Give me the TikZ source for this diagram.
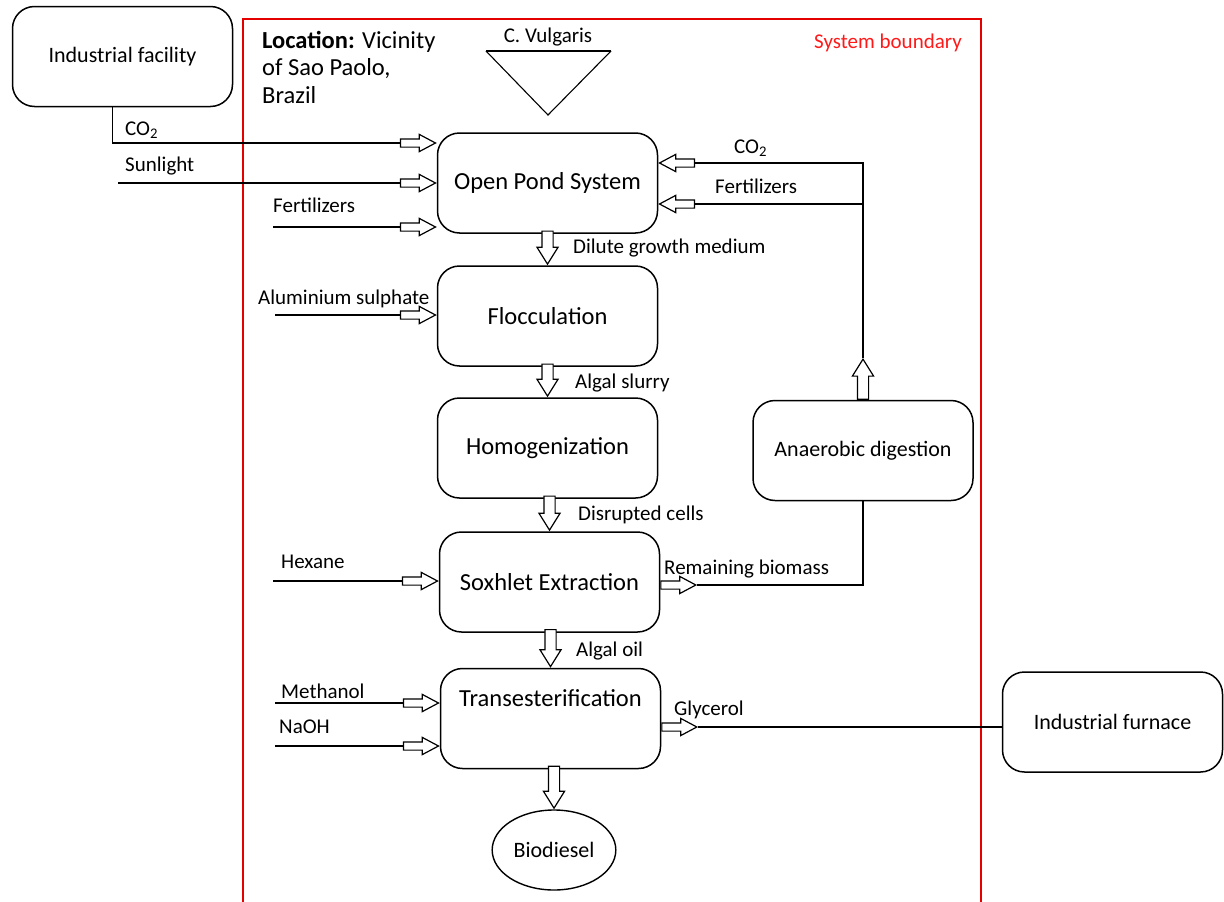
\documentclass[tikz,border=0pt]{standalone}
\usepackage{fontspec}
\setmainfont{Carlito}
\usetikzlibrary{shapes.arrows,shapes.geometric}

\tikzset{
  unit/.style={draw, line width=1.5pt, rounded corners=22pt, minimum width=220pt, minimum height=100pt, inner sep=2pt, font=\fontsize{22}{26}\selectfont},
  big/.style={font=\fontsize{24.5}{28}\selectfont},
  tag/.style={font=\fontsize{21}{25}\selectfont, inner sep=0pt, anchor=west},
  flow/.style={line width=1.5pt},
  fat/.style={single arrow, draw, fill=white, line width=1.2pt, inner sep=0pt, text width=0pt, anchor=tip},
  fath/.style={fat, text height=7pt, text depth=0pt, single arrow head extend=4.5pt, single arrow tip angle=56, minimum height=35pt},
  fatv/.style={fat, text height=10pt, text depth=0pt, single arrow head extend=5pt, single arrow tip angle=64, rotate=-90},
}

\begin{document}
\begin{tikzpicture}[x=1pt,y=-1pt]
\useasboundingbox (0,0) rectangle (1224,902);

% system boundary
\draw[red!90!black, line width=1.5pt] (243,902) -- (243,19) -- (981,19) -- (981,902);
\node[tag, red!90!white, anchor=center] (sb) at (888,43) {System boundary};
\node[tag, anchor=north west, align=left, font=\fontsize{24.5}{27.5}\selectfont] (loc) at (262,31)
  {\textbf{Location:} Vicinity\\of Sao Paolo,\\Brazil};

% inoculum
\draw[line width=1.6pt] (486,51) -- (611,51);
\draw[line width=1.1pt] (486,51) -- (548,115) -- (611,51);
\node[tag, anchor=center] (cv) at (548,37) {C. Vulgaris};

% units
\node[unit] (fac) at (122.5,56.5) {Industrial facility};
\node[unit, big] (pond) at (547.5,183) {Open Pond System};
\node[unit, big] (floc) at (547.5,316) {Flocculation};
\node[unit, big] (homog) at (547.5,448) {Homogenization};
\node[unit, big] (sox) at (549.5,582) {Soxhlet Extraction};
\node[unit, big, text depth=40pt] (trans) at (550.5,718.5) {Transesterification};
\node[unit] (dig) at (863,450.5) {Anaerobic digestion};
\node[unit] (furn) at (1112.5,722) {Industrial furnace};
\node[draw, ellipse, line width=1.4pt, minimum width=116pt, minimum height=80pt, font=\fontsize{22}{26}\selectfont] (bio) at (554,850) {Biodiesel};

% inputs to the pond
\coordinate (co2turn) at (112.5,143);
\coordinate (sun) at (118,183);
\coordinate (fert) at (273,227);
\node[fath] (p1) at (pond.west|-co2turn) {};
\node[fath] (p2) at (pond.west|-sun) {};
\node[fath] (p3) at (pond.west|-fert) {};
\draw[flow] ([xshift=-10pt]fac.south) -- (co2turn) -- (p1.tail);
\draw[flow] (sun) -- (p2.tail);
\draw[flow] (fert) -- (p3.tail);
\node[tag] at (125,130) {CO\textsubscript{2}};
\node[tag] at (125,166) {Sunlight};
\node[tag] at (273,205) {Fertilizers};

% recycle from digestion
\coordinate (co2r) at (863,163);
\coordinate (fertr) at (863,204);
\node[fath, rotate=180] (p4) at (pond.east|-co2r) {};
\node[fath, rotate=180] (p5) at (pond.east|-fertr) {};
\node[fatv, rotate=180, anchor=tail, minimum height=40pt] (d1) at (dig.north) {};
\draw[flow] (d1.tip) -- (co2r) -- (p4.tail);
\draw[flow] (fertr) -- (p5.tail);
\node[tag] at (734,148) {CO\textsubscript{2}};
\node[tag] at (715,186) {Fertilizers};

% main line
\node[fatv, minimum height=33pt] (a1) at (floc.north) {};
\node[fatv, minimum height=32pt] (a2) at (homog.north) {};
\node[fatv, minimum height=34pt] (a3) at (sox.north) {};
\node[fatv, minimum height=37pt] (a4) at (trans.north) {};
\node[fatv, minimum height=42pt] (a5) at (bio.north) {};
\node[tag] at (573,248) {Dilute growth medium};
\node[tag] at (575,383) {Algal slurry};
\node[tag] at (578,515) {Disrupted cells};
\node[tag] at (576,651) {Algal oil};

% side inputs
\coordinate (alum) at (275,315);
\coordinate (hex) at (273,581);
\coordinate (meth) at (275,703);
\coordinate (naoh) at (275,746);
\node[fath] (f1) at (floc.west|-alum) {};
\node[fath] (s1) at (sox.west|-hex) {};
\node[fath] (t1) at (trans.west|-meth) {};
\node[fath] (t2) at (trans.west|-naoh) {};
\draw[flow] (alum) -- (f1.tail);
\draw[flow] (hex) -- (s1.tail);
\draw[flow] (meth) -- (t1.tail);
\draw[flow] (naoh) -- (t2.tail);
\node[tag] at (258,299) {Aluminium sulphate};
\node[tag] at (281,562) {Hexane};
\node[tag] at (281,691) {Methanol};
\node[tag] at (279,727) {NaOH};

% outputs
\node[fath, anchor=tail] (s2) at ([yshift=-3pt]sox.east) {};
\draw[flow] (s2.tip) -| (dig.south);
\node[tag] at (664,569) {Remaining biomass};
\node[fath, anchor=tail] (t3) at ([yshift=-8.5pt]trans.east) {};
\draw[flow] (t3.tip) -- (t3.tip-|furn.west);
\node[tag] at (674,710) {Glycerol};
\end{tikzpicture}
\end{document}
